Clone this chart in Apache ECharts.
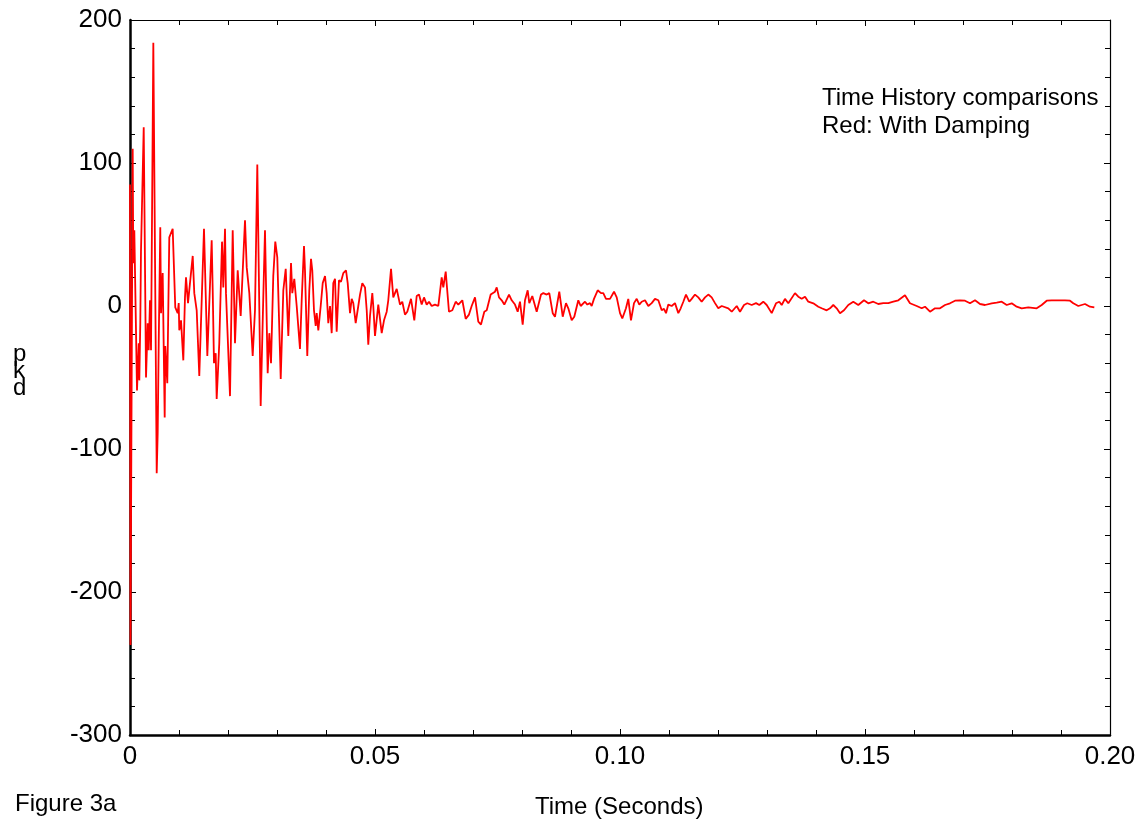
<!DOCTYPE html>
<html>
<head>
<meta charset="utf-8">
<script src="https://cdn.jsdelivr.net/npm/echarts@6/dist/echarts.min.js"></script>
<style>
html,body{margin:0;padding:0;background:#fff;}
#chart{width:1146px;height:832px;}
</style>
</head>
<body>
<div id="chart"></div>
<script>
// Time in milliseconds
const timeMs = [
0,0.10,0.55,0.67,0.88,1.43,1.78,1.90,2.10,2.24,2.80,3.27,3.61,3.82,4.08,4.29,4.76,5.45,5.65,5.86,
6.18,6.33,6.67,7.08,7.20,7.61,8.02,8.71,9.24,9.73,9.94,10.06,10.41,10.88,11.22,11.43,11.84,12.24,12.80,13.12,
13.61,14.14,15.10,15.78,16.67,16.88,17.14,17.49,17.69,18.22,18.78,19.04,19.39,19.59,20.41,20.96,21.43,21.98,22.59,23.47,
23.82,24.35,25.04,25.51,25.98,26.67,27.20,27.55,28.10,28.43,28.78,29.24,29.65,30.06,30.76,31.29,31.78,32.31,32.86,33.12,
33.53,34.02,34.69,35.04,35.51,35.71,36.18,36.59,36.94,37.20,37.55,37.90,38.10,38.43,38.92,39.33,39.80,40.14,40.47,40.82,
41.16,41.49,41.84,42.18,42.65,43.06,43.53,44.08,44.43,44.90,45.24,45.57,46.06,46.59,46.94,47.41,47.96,48.31,48.63,48.98,
49.45,49.65,50.00,50.67,51.37,51.84,52.39,52.71,53.27,53.73,54.43,55.10,55.57,56.12,56.59,56.94,57.35,58.02,58.51,58.98,
59.53,60.00,60.55,61.02,61.57,62.24,62.92,63.61,63.94,64.43,64.69,65.10,65.78,66.47,67.00,67.82,68.51,69.18,69.73,70.41,
71.08,71.63,72.31,72.80,73.61,74.49,74.84,75.31,75.86,76.39,77.35,77.90,78.57,79.12,79.59,80.14,80.61,81.16,81.49,82.10,
83.00,83.88,84.35,85.04,85.57,86.27,86.73,87.61,88.31,88.98,89.45,90.14,90.67,91.49,91.98,92.86,93.33,93.88,94.22,94.69,
95.45,96.12,96.59,97.14,97.96,98.78,99.33,100.00,100.47,101.22,101.69,102.24,102.86,103.41,103.94,104.43,105.10,105.78,106.47,107.14,
107.82,108.51,108.98,109.39,109.86,110.55,111.22,111.90,112.39,112.92,113.47,114.14,114.63,115.31,115.98,116.67,117.35,118.02,118.71,119.39,
120.06,120.76,122.10,122.80,123.82,124.49,125.31,125.98,126.88,127.76,128.43,129.24,129.94,130.96,131.84,132.51,133.00,133.67,134.35,135.71,
136.39,137.08,137.76,138.43,139.45,140.47,141.16,142.18,142.86,143.53,144.22,144.90,145.71,146.59,147.61,148.63,149.80,150.67,151.69,152.71,
153.73,154.76,155.78,156.80,158.16,159.18,160.55,161.57,162.24,163.27,164.29,165.31,166.33,167.35,168.37,169.39,170.41,171.43,172.45,173.47,
174.49,175.86,176.88,177.90,178.92,179.94,180.96,181.98,183.33,185.04,186.06,187.08,188.10,189.45,190.82,191.84,192.51,193.53,194.90,195.92,
196.80
];
// Response values
const values = [
85,-237,110,30,53,-59,-26,-52,-12,38,125,-50,-12,-31,4,-31,184,-117,-89,-26,
55,-5,23,-78,-28,-54,48,54,-1,-5,2,-17,-10,-38,6,20,2,16,35,9,
-3,-49,54,-35,46,11,-40,-33,-65,-26,45,13,54,9,-63,53,-26,25,-7,60,
27,9,-35,-3,99,-70,6,53,-47,-19,-40,21,45,34,-51,11,26,-21,30,9,
19,0,-30,4,42,25,-35,11,33,25,-3,-14,-5,-17,0,16,21,9,-12,0,
-19,16,19,-18,18,17,23,25,16,-5,5,2,-12,0,8,16,13,-3,-27,-7,
9,0,-21,1,-19,-10,-4,4,26,6,12,1,3,-6,-4,-5,5,-10,7,8,
1,6,1,3,0,1,0,20,13,24,13,-4,-3,3,1,4,-9,-6,0,6,
-11,-13,-4,-3,8,10,13,6,4,1,8,4,1,-4,3,-13,4,11,2,7,
-4,8,9,8,9,-5,-7.5,10,-7.5,2,-1.6,-10,-7.5,4,0,3,1,2,0,5,
11,9,9,5,5,10,6,-5,-8.7,-1.6,5,-10,2,5,1,3,4,0,2,5,
4,-3,-2,-5,1,0,2,-5,-1.6,3,8,3,5,8,6,3,6,8,6,2,
-1.6,0,-1.6,-4,0,-4,0.7,1.9,0.7,2,0.7,3,0.7,-5,1.9,3,0.7,5,1.9,9,
6.5,5,6.5,3,1.9,-0.5,-1.6,-3,-1.6,0.7,-1.6,-5,-3,0.7,3,0.7,4,1.9,3,1.4,
2,2,3,4,7.5,1.9,0,-1.6,-0.5,-4,-1.6,-1.6,0.7,1.9,3.7,4,3.7,1.9,4,1.4,
0.7,1.9,2.3,3,0.7,1.9,-0.5,-1.6,-1,-1.6,0.7,3.7,4,4,4,3.7,1.9,0,1.4,-0.5,
-1
];
const xTickLabels = ['0','0.05','0.10','0.15','0.20'];
const yTickLabels = ['-300','-200','-100','0','100','200'];
const titleLines = ['Time History comparisons','Red: With Damping'];

const FONT = "'Liberation Sans', Arial, sans-serif";
const seriesData = timeMs.map((t, i) => [t / 1000, values[i]]);

const chart = echarts.init(document.getElementById('chart'), null, {renderer: 'canvas'});

const mainLine = {show: true, onZero: false, lineStyle: {color: '#000', width: 2.5}};
const thinLine = {show: true, onZero: false, lineStyle: {color: '#000', width: 1.2}};
const tick = {show: true, inside: true, length: 6, lineStyle: {color: '#000', width: 1}};
const minor = {show: true, splitNumber: 5, length: 5, lineStyle: {color: '#000', width: 1}};

chart.setOption({
  backgroundColor: '#fff',
  animation: false,
  grid: {left: 130, right: 36, top: 20, bottom: 97, containLabel: false},
  xAxis: [{
    type: 'value', min: 0, max: 0.2, interval: 0.05, position: 'bottom',
    axisLine: mainLine, axisTick: tick, minorTick: minor,
    splitLine: {show: false},
    axisLabel: {
      color: '#000', fontSize: 26, fontFamily: FONT, margin: 9,
      formatter: (v) => xTickLabels[Math.round(v / 0.05)]
    }
  }, {
    type: 'value', min: 0, max: 0.2, interval: 0.05, position: 'top',
    axisLine: thinLine, axisTick: tick, minorTick: minor,
    splitLine: {show: false}, axisLabel: {show: false}
  }],
  yAxis: [{
    type: 'value', min: -300, max: 200, interval: 100, position: 'left',
    axisLine: mainLine, axisTick: tick, minorTick: minor,
    splitLine: {show: false},
    axisLabel: {
      color: '#000', fontSize: 26, fontFamily: FONT, margin: 8,
      formatter: (v) => yTickLabels[Math.round((v + 300) / 100)]
    }
  }, {
    type: 'value', min: -300, max: 200, interval: 100, position: 'right',
    axisLine: thinLine, axisTick: tick, minorTick: minor,
    splitLine: {show: false}, axisLabel: {show: false}
  }],
  series: [{
    type: 'line',
    data: seriesData,
    xAxisIndex: 0, yAxisIndex: 0,
    showSymbol: false, symbol: 'none',
    lineStyle: {color: '#ff0000', width: 1.8},
    sampling: null,
    silent: true
  }],
  graphic: [
    {type: 'text', left: 822, top: 86, style: {text: titleLines[0], fontSize: 24, fontFamily: FONT, fill: '#000'}},
    {type: 'text', left: 822, top: 114, style: {text: titleLines[1], fontSize: 24, fontFamily: FONT, fill: '#000'}},
    {type: 'text', left: 15, top: 792, style: {text: 'Figure 3a', fontSize: 24, fontFamily: FONT, fill: '#000'}},
    {type: 'text', left: 535, top: 795, style: {text: 'Time (Seconds)', fontSize: 24, fontFamily: FONT, fill: '#000'}},
    {type: 'text', left: 13, top: 342, style: {text: 'p\nk\nd', fontSize: 24, lineHeight: 17, fontFamily: FONT, fill: '#000'}}
  ]
});
</script>
</body>
</html>
